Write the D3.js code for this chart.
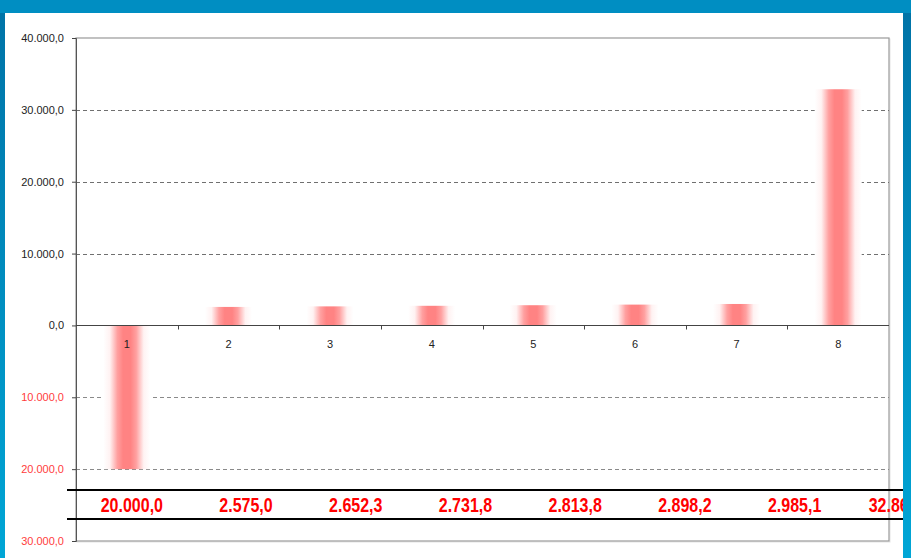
<!DOCTYPE html>
<html>
<head>
<meta charset="utf-8">
<script src="https://cdn.jsdelivr.net/npm/d3@7"></script>
<style>
  html, body { margin: 0; padding: 0; background: #fff; }
  svg { display: block; }
</style>
</head>
<body>
<div id="container"></div>
<script>
"use strict";

// Chart data.
const categories = ["1", "2", "3", "4", "5", "6", "7", "8"];
const cashFlows = [-20000, 2575.0, 2652.3, 2731.8, 2813.8, 2898.2, 2985.1, 32868.4];
const yTicks = [-30000, -20000, -10000, 0, 10000, 20000, 30000, 40000];
const gridValues = [-20000, -10000, 10000, 20000, 30000];

const width = 911;
const height = 558;
const plot = { left: 76, right: 889, top: 38, bottom: 541 };

const de = d3.formatLocale({ decimal: ",", thousands: ".", grouping: [3], currency: ["", "€"] });
const fmt = de.format(",.1f");

const x = d3.scaleBand().domain(categories).range([plot.left, plot.right]);
const y = d3.scaleLinear().domain([-30000, 40000]).range([plot.bottom, plot.top]);
// Value strip under the plot: right-aligned labels, own spacing.
const labelX = d3.scaleLinear().domain([0, categories.length - 1]).range([163, 931]);

const svg = d3.create("svg").attr("width", width).attr("height", height);
const defs = svg.append("defs");

const barGrad = defs.append("linearGradient").attr("id", "barGrad")
  .attr("x1", 0).attr("x2", 1).attr("y1", 0).attr("y2", 0);
[["0%", "#ffffff"], ["14%", "#fff2f2"], ["30%", "#ffa0a0"], ["42%", "#ff8383"],
 ["58%", "#ff8383"], ["70%", "#ffa0a0"], ["86%", "#fff2f2"], ["100%", "#ffffff"]]
  .forEach(([o, c]) => barGrad.append("stop").attr("offset", o).attr("stop-color", c));

const sideGrad = defs.append("linearGradient").attr("id", "sideGrad")
  .attr("x1", 0).attr("x2", 0).attr("y1", 0).attr("y2", 1);
[["0%", "#0072a6"], ["100%", "#00a6d6"]]
  .forEach(([o, c]) => sideGrad.append("stop").attr("offset", o).attr("stop-color", c));

// Plot frame.
svg.append("rect")
  .attr("x", plot.left + 1).attr("y", plot.top + 1)
  .attr("width", plot.right - plot.left).attr("height", plot.bottom - plot.top)
  .attr("fill", "none").attr("stroke", "#e4e4e4");
svg.append("rect")
  .attr("x", plot.left).attr("y", plot.top)
  .attr("width", plot.right - plot.left).attr("height", plot.bottom - plot.top)
  .attr("fill", "#fff").attr("stroke", "#999").attr("stroke-width", 1.2);

// Grid lines.
svg.append("g")
  .selectAll("line")
  .data(gridValues)
  .join("line")
  .attr("x1", plot.left).attr("x2", plot.right)
  .attr("y1", (d) => Math.round(y(d)) + 0.5).attr("y2", (d) => Math.round(y(d)) + 0.5)
  .attr("stroke", (d) => (d < 0 ? "#8a8a8a" : "#707070"))
  .attr("stroke-dasharray", "4,3");

// Bars.
const barW = 47;
svg.append("g")
  .selectAll("rect")
  .data(cashFlows)
  .join("rect")
  .attr("x", (d, i) => x(categories[i]) + x.bandwidth() / 2 - barW / 2)
  .attr("y", (d) => y(Math.max(d, 0)))
  .attr("width", barW)
  .attr("height", (d) => Math.abs(y(d) - y(0)))
  .attr("fill", "url(#barGrad)");

// Y axis.
const yAxis = svg.append("g")
  .attr("transform", `translate(${plot.left}, 0)`)
  .call(d3.axisLeft(y).tickValues(yTicks).tickSize(4).tickPadding(8)
    .tickFormat((d) => fmt(Math.abs(d))));
yAxis.select(".domain").attr("stroke", "#555");
yAxis.selectAll(".tick line").attr("stroke", "#444");
yAxis.selectAll("text")
  .attr("font-family", "Liberation Sans, Arial, sans-serif")
  .attr("font-size", 11)
  .attr("fill", (d) => (d < 0 ? "#ff3c3c" : "#222"));

// X axis at zero, ticks between categories.
const xg = svg.append("g").attr("transform", `translate(0, ${Math.round(y(0)) + 0.5})`);
xg.append("line").attr("x1", plot.left).attr("x2", plot.right).attr("stroke", "#444");
xg.selectAll(".xt")
  .data(categories.slice(1))
  .join("line")
  .attr("class", "xt")
  .attr("x1", (d) => Math.round(x(d)) + 0.5).attr("x2", (d) => Math.round(x(d)) + 0.5)
  .attr("y1", 0).attr("y2", 4)
  .attr("stroke", "#444");
xg.selectAll("text")
  .data(categories)
  .join("text")
  .attr("x", (d) => x(d) + x.bandwidth() / 2)
  .attr("y", 22)
  .attr("text-anchor", "middle")
  .attr("font-family", "Liberation Sans, Arial, sans-serif")
  .attr("font-size", 11)
  .attr("fill", "#222")
  .text((d) => d);

// Value strip.
[490, 519].forEach((ly) => {
  svg.append("line")
    .attr("x1", 67).attr("x2", width)
    .attr("y1", ly).attr("y2", ly)
    .attr("stroke", "#000").attr("stroke-width", 2.2);
});
// No narrow font installed: squeeze a bold face horizontally.
svg.append("g")
  .selectAll("text")
  .data(cashFlows)
  .join("text")
  .attr("transform", (d, i) => `translate(${labelX(i)}, 512) scale(0.8, 1)`)
  .attr("text-anchor", "end")
  .attr("font-family", "Liberation Sans, Arial, sans-serif")
  .attr("font-weight", "bold")
  .attr("font-size", 20)
  .attr("fill", "#ff0000")
  .text((d) => fmt(Math.abs(d)));

// Blue window frame.
svg.append("rect").attr("x", 0).attr("y", 0).attr("width", 5).attr("height", height).attr("fill", "url(#sideGrad)");
svg.append("rect").attr("x", 903).attr("y", 0).attr("width", 8).attr("height", height).attr("fill", "url(#sideGrad)");
svg.append("rect").attr("x", 0).attr("y", 0).attr("width", width).attr("height", 13).attr("fill", "#008ec2");

d3.select("#container").append(() => svg.node());
</script>
</body>
</html>
